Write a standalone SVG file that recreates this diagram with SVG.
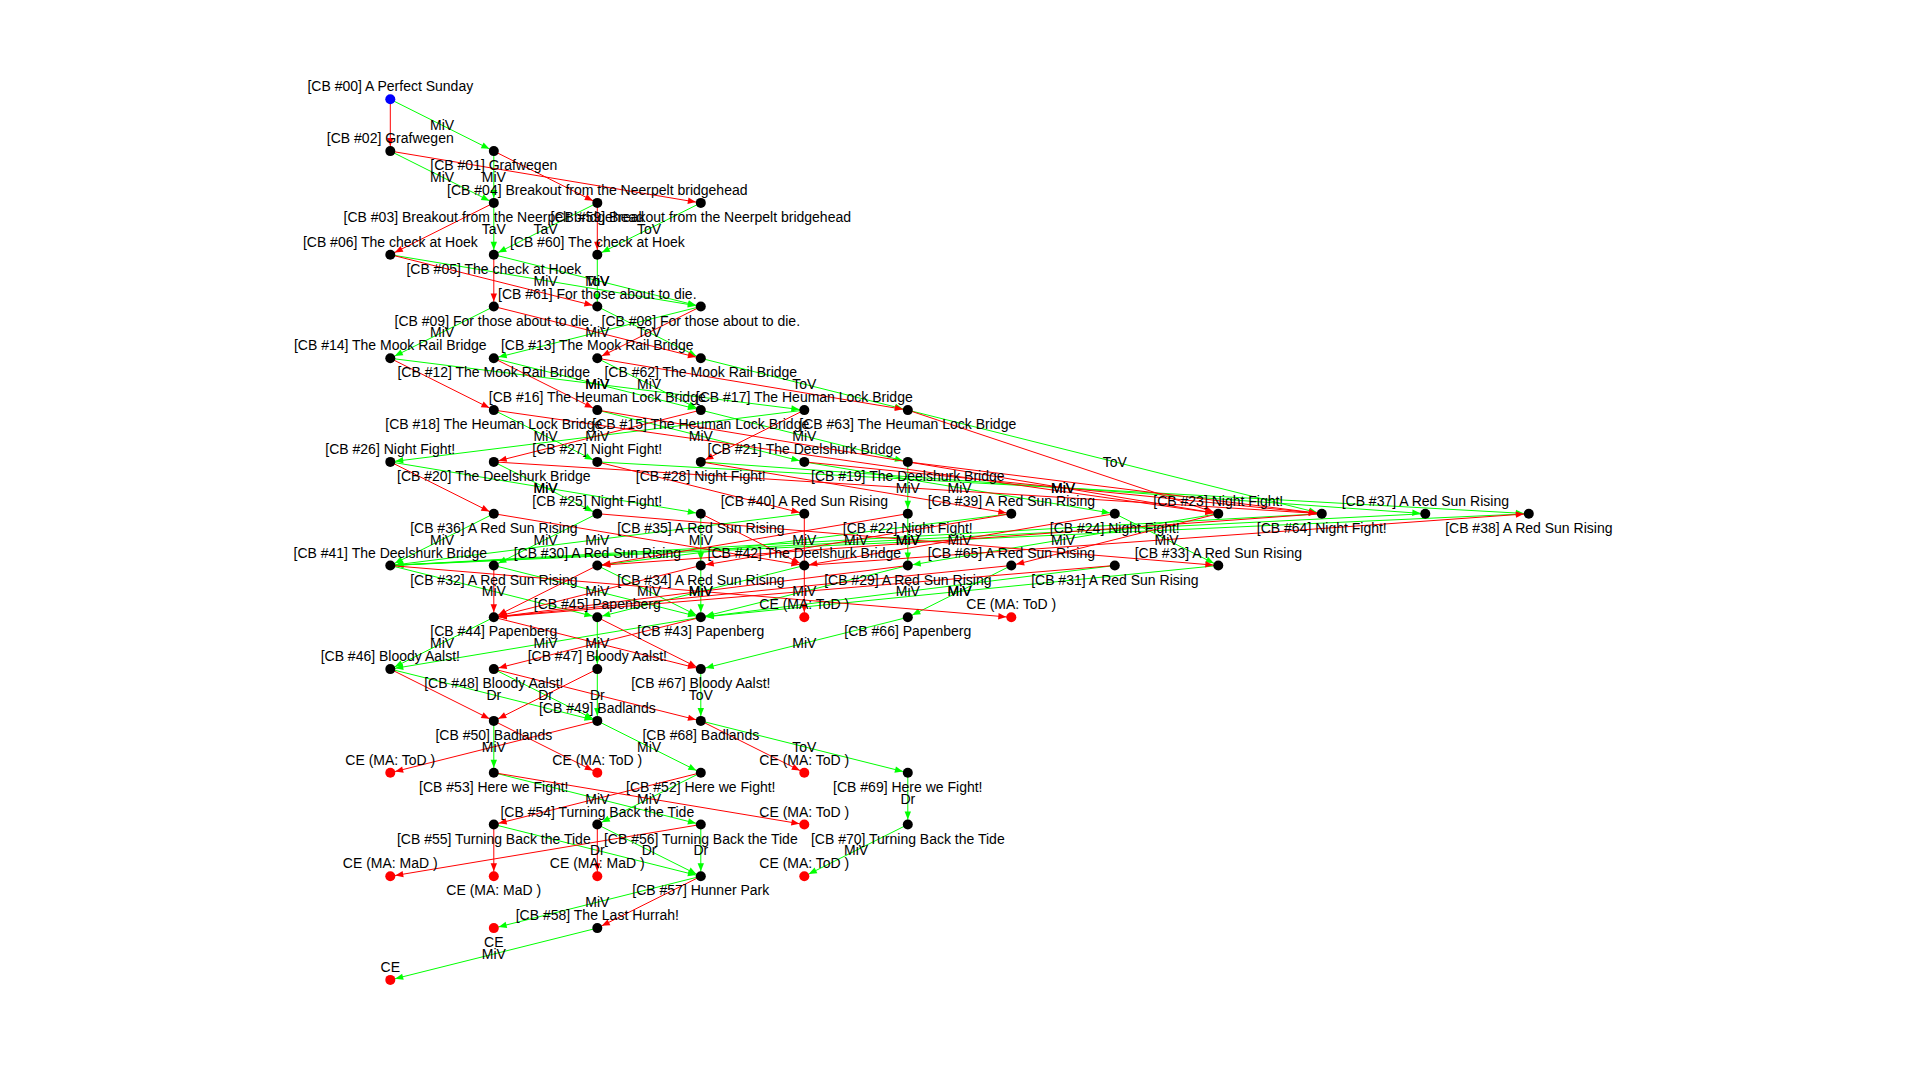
<svg xmlns="http://www.w3.org/2000/svg" width="1920" height="1080" viewBox="0 0 1920 1080">
<style>
.g{stroke:#00ff00;stroke-width:1;fill:none;marker-end:url(#ag)}
.r{stroke:#ff0000;stroke-width:1;fill:none;marker-end:url(#ar)}
text{font-family:"Liberation Sans",Arial,Helvetica,sans-serif;font-size:14px;fill:#000;text-anchor:middle}
.k{fill:#000}
.s{fill:#0000ff}
.e{fill:#ff0000}
</style>
<defs>
<marker id="ag" markerUnits="userSpaceOnUse" markerWidth="14" markerHeight="7" refX="13" refY="3.2" orient="auto" overflow="visible"><path d="M0,0 L8,3.2 L0,6.4 z" fill="#00ff00"/></marker>
<marker id="ar" markerUnits="userSpaceOnUse" markerWidth="14" markerHeight="7" refX="13" refY="3.2" orient="auto" overflow="visible"><path d="M0,0 L8,3.2 L0,6.4 z" fill="#ff0000"/></marker>
</defs>
<rect x="0" y="0" width="1920" height="1080" fill="#ffffff"/>
<g id="connectors">
<g id="green-edges">
<line class="g" x1="390.3" y1="99.3" x2="493.8" y2="151.1"/>
<line class="g" x1="390.3" y1="151.1" x2="493.8" y2="202.9"/>
<line class="g" x1="493.8" y1="151.1" x2="493.8" y2="202.9"/>
<line class="g" x1="493.8" y1="202.9" x2="493.8" y2="254.7"/>
<line class="g" x1="597.3" y1="202.9" x2="493.8" y2="254.7"/>
<line class="g" x1="700.8" y1="202.9" x2="597.3" y2="254.7"/>
<line class="g" x1="390.3" y1="254.7" x2="700.8" y2="306.5"/>
<line class="g" x1="493.8" y1="254.7" x2="700.8" y2="306.5"/>
<line class="g" x1="597.3" y1="254.7" x2="597.3" y2="306.5"/>
<line class="g" x1="493.8" y1="306.5" x2="390.3" y2="358.3"/>
<line class="g" x1="700.8" y1="306.5" x2="493.8" y2="358.3"/>
<line class="g" x1="597.3" y1="306.5" x2="700.8" y2="358.3"/>
<line class="g" x1="390.3" y1="358.3" x2="804.3" y2="410.1"/>
<line class="g" x1="493.8" y1="358.3" x2="700.8" y2="410.1"/>
<line class="g" x1="597.3" y1="358.3" x2="700.8" y2="410.1"/>
<line class="g" x1="700.8" y1="358.3" x2="907.8" y2="410.1"/>
<line class="g" x1="493.8" y1="410.1" x2="597.3" y2="461.9"/>
<line class="g" x1="597.3" y1="410.1" x2="804.3" y2="461.9"/>
<line class="g" x1="700.8" y1="410.1" x2="907.8" y2="461.9"/>
<line class="g" x1="804.3" y1="410.1" x2="390.3" y2="461.9"/>
<line class="g" x1="907.8" y1="410.1" x2="1321.8" y2="513.7"/>
<line class="g" x1="390.3" y1="461.9" x2="700.8" y2="513.7"/>
<line class="g" x1="493.8" y1="461.9" x2="597.3" y2="513.7"/>
<line class="g" x1="597.3" y1="461.9" x2="1528.8" y2="513.7"/>
<line class="g" x1="700.8" y1="461.9" x2="1425.3" y2="513.7"/>
<line class="g" x1="804.3" y1="461.9" x2="1114.8" y2="513.7"/>
<line class="g" x1="907.8" y1="461.9" x2="907.8" y2="513.7"/>
<line class="g" x1="493.8" y1="513.7" x2="390.3" y2="565.5"/>
<line class="g" x1="597.3" y1="513.7" x2="493.8" y2="565.5"/>
<line class="g" x1="700.8" y1="513.7" x2="700.8" y2="565.5"/>
<line class="g" x1="804.3" y1="513.7" x2="390.3" y2="565.5"/>
<line class="g" x1="907.8" y1="513.7" x2="907.8" y2="565.5"/>
<line class="g" x1="1011.3" y1="513.7" x2="597.3" y2="565.5"/>
<line class="g" x1="1114.8" y1="513.7" x2="1218.3" y2="565.5"/>
<line class="g" x1="1218.3" y1="513.7" x2="907.8" y2="565.5"/>
<line class="g" x1="1321.8" y1="513.7" x2="390.3" y2="565.5"/>
<line class="g" x1="1425.3" y1="513.7" x2="390.3" y2="565.5"/>
<line class="g" x1="1528.8" y1="513.7" x2="390.3" y2="565.5"/>
<line class="g" x1="390.3" y1="565.5" x2="597.3" y2="617.3"/>
<line class="g" x1="493.8" y1="565.5" x2="700.8" y2="617.3"/>
<line class="g" x1="597.3" y1="565.5" x2="700.8" y2="617.3"/>
<line class="g" x1="700.8" y1="565.5" x2="700.8" y2="617.3"/>
<line class="g" x1="804.3" y1="565.5" x2="597.3" y2="617.3"/>
<line class="g" x1="907.8" y1="565.5" x2="700.8" y2="617.3"/>
<line class="g" x1="1011.3" y1="565.5" x2="907.8" y2="617.3"/>
<line class="g" x1="1114.8" y1="565.5" x2="700.8" y2="617.3"/>
<line class="g" x1="1218.3" y1="565.5" x2="700.8" y2="617.3"/>
<line class="g" x1="493.8" y1="617.3" x2="390.3" y2="669.1"/>
<line class="g" x1="700.8" y1="617.3" x2="390.3" y2="669.1"/>
<line class="g" x1="597.3" y1="617.3" x2="597.3" y2="669.1"/>
<line class="g" x1="907.8" y1="617.3" x2="700.8" y2="669.1"/>
<line class="g" x1="390.3" y1="669.1" x2="597.3" y2="720.9"/>
<line class="g" x1="493.8" y1="669.1" x2="597.3" y2="720.9"/>
<line class="g" x1="597.3" y1="669.1" x2="597.3" y2="720.9"/>
<line class="g" x1="700.8" y1="669.1" x2="700.8" y2="720.9"/>
<line class="g" x1="493.8" y1="720.9" x2="493.8" y2="772.7"/>
<line class="g" x1="597.3" y1="720.9" x2="700.8" y2="772.7"/>
<line class="g" x1="700.8" y1="720.9" x2="907.8" y2="772.7"/>
<line class="g" x1="493.8" y1="772.7" x2="700.8" y2="824.5"/>
<line class="g" x1="700.8" y1="772.7" x2="597.3" y2="824.5"/>
<line class="g" x1="907.8" y1="772.7" x2="907.8" y2="824.5"/>
<line class="g" x1="493.8" y1="824.5" x2="700.8" y2="876.3"/>
<line class="g" x1="597.3" y1="824.5" x2="700.8" y2="876.3"/>
<line class="g" x1="700.8" y1="824.5" x2="700.8" y2="876.3"/>
<line class="g" x1="907.8" y1="824.5" x2="804.3" y2="876.3"/>
<line class="g" x1="700.8" y1="876.3" x2="493.8" y2="928.1"/>
<line class="g" x1="597.3" y1="928.1" x2="390.3" y2="979.9"/>
</g>
<g id="red-edges">
<line class="r" x1="390.3" y1="99.3" x2="390.3" y2="151.1"/>
<line class="r" x1="390.3" y1="151.1" x2="700.8" y2="202.9"/>
<line class="r" x1="493.8" y1="151.1" x2="597.3" y2="202.9"/>
<line class="r" x1="493.8" y1="202.9" x2="390.3" y2="254.7"/>
<line class="r" x1="597.3" y1="202.9" x2="597.3" y2="254.7"/>
<line class="r" x1="390.3" y1="254.7" x2="597.3" y2="306.5"/>
<line class="r" x1="493.8" y1="254.7" x2="493.8" y2="306.5"/>
<line class="r" x1="493.8" y1="306.5" x2="700.8" y2="358.3"/>
<line class="r" x1="700.8" y1="306.5" x2="597.3" y2="358.3"/>
<line class="r" x1="390.3" y1="358.3" x2="493.8" y2="410.1"/>
<line class="r" x1="493.8" y1="358.3" x2="597.3" y2="410.1"/>
<line class="r" x1="597.3" y1="358.3" x2="907.8" y2="410.1"/>
<line class="r" x1="700.8" y1="410.1" x2="493.8" y2="461.9"/>
<line class="r" x1="804.3" y1="410.1" x2="700.8" y2="461.9"/>
<line class="r" x1="493.8" y1="410.1" x2="1218.3" y2="513.7"/>
<line class="r" x1="597.3" y1="410.1" x2="1218.3" y2="513.7"/>
<line class="r" x1="907.8" y1="410.1" x2="1218.3" y2="513.7"/>
<line class="r" x1="390.3" y1="461.9" x2="493.8" y2="513.7"/>
<line class="r" x1="493.8" y1="461.9" x2="1321.8" y2="513.7"/>
<line class="r" x1="597.3" y1="461.9" x2="804.3" y2="513.7"/>
<line class="r" x1="700.8" y1="461.9" x2="1011.3" y2="513.7"/>
<line class="r" x1="804.3" y1="461.9" x2="1321.8" y2="513.7"/>
<line class="r" x1="907.8" y1="461.9" x2="1321.8" y2="513.7"/>
<line class="r" x1="493.8" y1="513.7" x2="804.3" y2="565.5"/>
<line class="r" x1="597.3" y1="513.7" x2="1218.3" y2="565.5"/>
<line class="r" x1="700.8" y1="513.7" x2="804.3" y2="565.5"/>
<line class="r" x1="804.3" y1="513.7" x2="804.3" y2="617.3"/>
<line class="r" x1="907.8" y1="513.7" x2="597.3" y2="565.5"/>
<line class="r" x1="1011.3" y1="513.7" x2="700.8" y2="565.5"/>
<line class="r" x1="1114.8" y1="513.7" x2="804.3" y2="565.5"/>
<line class="r" x1="1218.3" y1="513.7" x2="1011.3" y2="565.5"/>
<line class="r" x1="1321.8" y1="513.7" x2="597.3" y2="565.5"/>
<line class="r" x1="390.3" y1="565.5" x2="1011.3" y2="617.3"/>
<line class="r" x1="493.8" y1="565.5" x2="493.8" y2="617.3"/>
<line class="r" x1="597.3" y1="565.5" x2="493.8" y2="617.3"/>
<line class="r" x1="700.8" y1="565.5" x2="493.8" y2="617.3"/>
<line class="r" x1="804.3" y1="565.5" x2="1528.8" y2="513.7"/>
<line class="r" x1="907.8" y1="565.5" x2="493.8" y2="617.3"/>
<line class="r" x1="1011.3" y1="565.5" x2="493.8" y2="617.3"/>
<line class="r" x1="1114.8" y1="565.5" x2="493.8" y2="617.3"/>
<line class="r" x1="493.8" y1="617.3" x2="700.8" y2="669.1"/>
<line class="r" x1="597.3" y1="617.3" x2="700.8" y2="669.1"/>
<line class="r" x1="700.8" y1="617.3" x2="493.8" y2="669.1"/>
<line class="r" x1="390.3" y1="669.1" x2="493.8" y2="720.9"/>
<line class="r" x1="493.8" y1="669.1" x2="700.8" y2="720.9"/>
<line class="r" x1="597.3" y1="669.1" x2="493.8" y2="720.9"/>
<line class="r" x1="493.8" y1="720.9" x2="597.3" y2="772.7"/>
<line class="r" x1="597.3" y1="720.9" x2="390.3" y2="772.7"/>
<line class="r" x1="700.8" y1="720.9" x2="804.3" y2="772.7"/>
<line class="r" x1="493.8" y1="772.7" x2="804.3" y2="824.5"/>
<line class="r" x1="700.8" y1="772.7" x2="493.8" y2="824.5"/>
<line class="r" x1="493.8" y1="824.5" x2="493.8" y2="876.3"/>
<line class="r" x1="597.3" y1="824.5" x2="597.3" y2="876.3"/>
<line class="r" x1="700.8" y1="824.5" x2="390.3" y2="876.3"/>
<line class="r" x1="700.8" y1="876.3" x2="597.3" y2="928.1"/>
</g>
<g id="edge-labels">
<text x="442.1" y="130.2">MiV</text>
<text x="442.1" y="182">MiV</text>
<text x="493.8" y="182">MiV</text>
<text x="493.8" y="233.8">TaV</text>
<text x="545.6" y="233.8">TaV</text>
<text x="649.1" y="233.8">ToV</text>
<text x="545.6" y="285.6">MiV</text>
<text x="597.3" y="285.6">MiV</text>
<text x="597.3" y="285.6">ToV</text>
<text x="442.1" y="337.4">MiV</text>
<text x="597.3" y="337.4">MiV</text>
<text x="649.1" y="337.4">ToV</text>
<text x="597.3" y="389.2">MiV</text>
<text x="597.3" y="389.2">MiV</text>
<text x="649.1" y="389.2">MiV</text>
<text x="804.3" y="389.2">ToV</text>
<text x="545.6" y="441">MiV</text>
<text x="597.3" y="441">MiV</text>
<text x="700.8" y="441">MiV</text>
<text x="804.3" y="441">MiV</text>
<text x="1114.8" y="466.9">ToV</text>
<text x="545.6" y="492.8">MiV</text>
<text x="545.6" y="492.8">MiV</text>
<text x="907.8" y="492.8">MiV</text>
<text x="959.6" y="492.8">MiV</text>
<text x="1063.1" y="492.8">MiV</text>
<text x="1063.1" y="492.8">MiV</text>
<text x="442.1" y="544.6">MiV</text>
<text x="545.6" y="544.6">MiV</text>
<text x="597.3" y="544.6">MiV</text>
<text x="700.8" y="544.6">MiV</text>
<text x="804.3" y="544.6">MiV</text>
<text x="856.1" y="544.6">MiV</text>
<text x="907.8" y="544.6">MiV</text>
<text x="907.8" y="544.6">MiV</text>
<text x="959.6" y="544.6">MiV</text>
<text x="1063.1" y="544.6">MiV</text>
<text x="1166.6" y="544.6">MiV</text>
<text x="493.8" y="596.4">MiV</text>
<text x="597.3" y="596.4">MiV</text>
<text x="649.1" y="596.4">MiV</text>
<text x="700.8" y="596.4">MiV</text>
<text x="700.8" y="596.4">MiV</text>
<text x="804.3" y="596.4">MiV</text>
<text x="907.8" y="596.4">MiV</text>
<text x="959.6" y="596.4">MiV</text>
<text x="959.6" y="596.4">MiV</text>
<text x="442.1" y="648.2">MiV</text>
<text x="545.6" y="648.2">MiV</text>
<text x="597.3" y="648.2">MiV</text>
<text x="804.3" y="648.2">MiV</text>
<text x="493.8" y="700">Dr</text>
<text x="545.6" y="700">Dr</text>
<text x="597.3" y="700">Dr</text>
<text x="700.8" y="700">ToV</text>
<text x="493.8" y="751.8">MiV</text>
<text x="649.1" y="751.8">MiV</text>
<text x="804.3" y="751.8">ToV</text>
<text x="597.3" y="803.6">MiV</text>
<text x="649.1" y="803.6">MiV</text>
<text x="907.8" y="803.6">Dr</text>
<text x="597.3" y="855.4">Dr</text>
<text x="649.1" y="855.4">Dr</text>
<text x="700.8" y="855.4">Dr</text>
<text x="856.1" y="855.4">MiV</text>
<text x="597.3" y="907.2">MiV</text>
<text x="493.8" y="959">MiV</text>
</g>
</g>
<g id="nodes">
<g id="n00"><circle class="s" cx="390.3" cy="99.3" r="5"/><text x="390.3" y="91.3">[CB #00] A Perfect Sunday</text></g>
<g id="n02"><circle class="k" cx="390.3" cy="151.1" r="5"/><text x="390.3" y="143.1">[CB #02] Grafwegen</text></g>
<g id="n01"><circle class="k" cx="493.8" cy="151.1" r="5"/><text x="493.8" y="170.1">[CB #01] Grafwegen</text></g>
<g id="n03"><circle class="k" cx="493.8" cy="202.9" r="5"/><text x="493.8" y="221.9">[CB #03] Breakout from the Neerpelt bridgehead</text></g>
<g id="n04"><circle class="k" cx="597.3" cy="202.9" r="5"/><text x="597.3" y="194.9">[CB #04] Breakout from the Neerpelt bridgehead</text></g>
<g id="n59"><circle class="k" cx="700.8" cy="202.9" r="5"/><text x="700.8" y="221.9">[CB #59] Breakout from the Neerpelt bridgehead</text></g>
<g id="n06"><circle class="k" cx="390.3" cy="254.7" r="5"/><text x="390.3" y="246.7">[CB #06] The check at Hoek</text></g>
<g id="n05"><circle class="k" cx="493.8" cy="254.7" r="5"/><text x="493.8" y="273.7">[CB #05] The check at Hoek</text></g>
<g id="n60"><circle class="k" cx="597.3" cy="254.7" r="5"/><text x="597.3" y="246.7">[CB #60] The check at Hoek</text></g>
<g id="n09"><circle class="k" cx="493.8" cy="306.5" r="5"/><text x="493.8" y="325.5">[CB #09] For those about to die.</text></g>
<g id="n61"><circle class="k" cx="597.3" cy="306.5" r="5"/><text x="597.3" y="298.5">[CB #61] For those about to die.</text></g>
<g id="n08"><circle class="k" cx="700.8" cy="306.5" r="5"/><text x="700.8" y="325.5">[CB #08] For those about to die.</text></g>
<g id="n14"><circle class="k" cx="390.3" cy="358.3" r="5"/><text x="390.3" y="350.3">[CB #14] The Mook Rail Bridge</text></g>
<g id="n12"><circle class="k" cx="493.8" cy="358.3" r="5"/><text x="493.8" y="377.3">[CB #12] The Mook Rail Bridge</text></g>
<g id="n13"><circle class="k" cx="597.3" cy="358.3" r="5"/><text x="597.3" y="350.3">[CB #13] The Mook Rail Bridge</text></g>
<g id="n62"><circle class="k" cx="700.8" cy="358.3" r="5"/><text x="700.8" y="377.3">[CB #62] The Mook Rail Bridge</text></g>
<g id="n18"><circle class="k" cx="493.8" cy="410.1" r="5"/><text x="493.8" y="429.1">[CB #18] The Heuman Lock Bridge</text></g>
<g id="n16"><circle class="k" cx="597.3" cy="410.1" r="5"/><text x="597.3" y="402.1">[CB #16] The Heuman Lock Bridge</text></g>
<g id="n15"><circle class="k" cx="700.8" cy="410.1" r="5"/><text x="700.8" y="429.1">[CB #15] The Heuman Lock Bridge</text></g>
<g id="n17"><circle class="k" cx="804.3" cy="410.1" r="5"/><text x="804.3" y="402.1">[CB #17] The Heuman Lock Bridge</text></g>
<g id="n63"><circle class="k" cx="907.8" cy="410.1" r="5"/><text x="907.8" y="429.1">[CB #63] The Heuman Lock Bridge</text></g>
<g id="n26"><circle class="k" cx="390.3" cy="461.9" r="5"/><text x="390.3" y="453.9">[CB #26] Night Fight!</text></g>
<g id="n20"><circle class="k" cx="493.8" cy="461.9" r="5"/><text x="493.8" y="480.9">[CB #20] The Deelshurk Bridge</text></g>
<g id="n27"><circle class="k" cx="597.3" cy="461.9" r="5"/><text x="597.3" y="453.9">[CB #27] Night Fight!</text></g>
<g id="n28"><circle class="k" cx="700.8" cy="461.9" r="5"/><text x="700.8" y="480.9">[CB #28] Night Fight!</text></g>
<g id="n21"><circle class="k" cx="804.3" cy="461.9" r="5"/><text x="804.3" y="453.9">[CB #21] The Deelshurk Bridge</text></g>
<g id="n19"><circle class="k" cx="907.8" cy="461.9" r="5"/><text x="907.8" y="480.9">[CB #19] The Deelshurk Bridge</text></g>
<g id="n36"><circle class="k" cx="493.8" cy="513.7" r="5"/><text x="493.8" y="532.7">[CB #36] A Red Sun Rising</text></g>
<g id="n25"><circle class="k" cx="597.3" cy="513.7" r="5"/><text x="597.3" y="505.7">[CB #25] Night Fight!</text></g>
<g id="n35"><circle class="k" cx="700.8" cy="513.7" r="5"/><text x="700.8" y="532.7">[CB #35] A Red Sun Rising</text></g>
<g id="n40"><circle class="k" cx="804.3" cy="513.7" r="5"/><text x="804.3" y="505.7">[CB #40] A Red Sun Rising</text></g>
<g id="n22"><circle class="k" cx="907.8" cy="513.7" r="5"/><text x="907.8" y="532.7">[CB #22] Night Fight!</text></g>
<g id="n39"><circle class="k" cx="1011.3" cy="513.7" r="5"/><text x="1011.3" y="505.7">[CB #39] A Red Sun Rising</text></g>
<g id="n24"><circle class="k" cx="1114.8" cy="513.7" r="5"/><text x="1114.8" y="532.7">[CB #24] Night Fight!</text></g>
<g id="n23"><circle class="k" cx="1218.3" cy="513.7" r="5"/><text x="1218.3" y="505.7">[CB #23] Night Fight!</text></g>
<g id="n64"><circle class="k" cx="1321.8" cy="513.7" r="5"/><text x="1321.8" y="532.7">[CB #64] Night Fight!</text></g>
<g id="n37"><circle class="k" cx="1425.3" cy="513.7" r="5"/><text x="1425.3" y="505.7">[CB #37] A Red Sun Rising</text></g>
<g id="n38"><circle class="k" cx="1528.8" cy="513.7" r="5"/><text x="1528.8" y="532.7">[CB #38] A Red Sun Rising</text></g>
<g id="n41"><circle class="k" cx="390.3" cy="565.5" r="5"/><text x="390.3" y="557.5">[CB #41] The Deelshurk Bridge</text></g>
<g id="n32"><circle class="k" cx="493.8" cy="565.5" r="5"/><text x="493.8" y="584.5">[CB #32] A Red Sun Rising</text></g>
<g id="n30"><circle class="k" cx="597.3" cy="565.5" r="5"/><text x="597.3" y="557.5">[CB #30] A Red Sun Rising</text></g>
<g id="n34"><circle class="k" cx="700.8" cy="565.5" r="5"/><text x="700.8" y="584.5">[CB #34] A Red Sun Rising</text></g>
<g id="n42"><circle class="k" cx="804.3" cy="565.5" r="5"/><text x="804.3" y="557.5">[CB #42] The Deelshurk Bridge</text></g>
<g id="n29"><circle class="k" cx="907.8" cy="565.5" r="5"/><text x="907.8" y="584.5">[CB #29] A Red Sun Rising</text></g>
<g id="n65"><circle class="k" cx="1011.3" cy="565.5" r="5"/><text x="1011.3" y="557.5">[CB #65] A Red Sun Rising</text></g>
<g id="n31"><circle class="k" cx="1114.8" cy="565.5" r="5"/><text x="1114.8" y="584.5">[CB #31] A Red Sun Rising</text></g>
<g id="n33"><circle class="k" cx="1218.3" cy="565.5" r="5"/><text x="1218.3" y="557.5">[CB #33] A Red Sun Rising</text></g>
<g id="n44"><circle class="k" cx="493.8" cy="617.3" r="5"/><text x="493.8" y="636.3">[CB #44] Papenberg</text></g>
<g id="n45"><circle class="k" cx="597.3" cy="617.3" r="5"/><text x="597.3" y="609.3">[CB #45] Papenberg</text></g>
<g id="n43"><circle class="k" cx="700.8" cy="617.3" r="5"/><text x="700.8" y="636.3">[CB #43] Papenberg</text></g>
<g id="ce1"><circle class="e" cx="804.3" cy="617.3" r="5"/><text x="804.3" y="609.3">CE (MA: ToD )</text></g>
<g id="n66"><circle class="k" cx="907.8" cy="617.3" r="5"/><text x="907.8" y="636.3">[CB #66] Papenberg</text></g>
<g id="ce2"><circle class="e" cx="1011.3" cy="617.3" r="5"/><text x="1011.3" y="609.3">CE (MA: ToD )</text></g>
<g id="n46"><circle class="k" cx="390.3" cy="669.1" r="5"/><text x="390.3" y="661.1">[CB #46] Bloody Aalst!</text></g>
<g id="n48"><circle class="k" cx="493.8" cy="669.1" r="5"/><text x="493.8" y="688.1">[CB #48] Bloody Aalst!</text></g>
<g id="n47"><circle class="k" cx="597.3" cy="669.1" r="5"/><text x="597.3" y="661.1">[CB #47] Bloody Aalst!</text></g>
<g id="n67"><circle class="k" cx="700.8" cy="669.1" r="5"/><text x="700.8" y="688.1">[CB #67] Bloody Aalst!</text></g>
<g id="n50"><circle class="k" cx="493.8" cy="720.9" r="5"/><text x="493.8" y="739.9">[CB #50] Badlands</text></g>
<g id="n49"><circle class="k" cx="597.3" cy="720.9" r="5"/><text x="597.3" y="712.9">[CB #49] Badlands</text></g>
<g id="n68"><circle class="k" cx="700.8" cy="720.9" r="5"/><text x="700.8" y="739.9">[CB #68] Badlands</text></g>
<g id="ce3"><circle class="e" cx="390.3" cy="772.7" r="5"/><text x="390.3" y="764.7">CE (MA: ToD )</text></g>
<g id="n53"><circle class="k" cx="493.8" cy="772.7" r="5"/><text x="493.8" y="791.7">[CB #53] Here we Fight!</text></g>
<g id="ce4"><circle class="e" cx="597.3" cy="772.7" r="5"/><text x="597.3" y="764.7">CE (MA: ToD )</text></g>
<g id="n52"><circle class="k" cx="700.8" cy="772.7" r="5"/><text x="700.8" y="791.7">[CB #52] Here we Fight!</text></g>
<g id="ce5"><circle class="e" cx="804.3" cy="772.7" r="5"/><text x="804.3" y="764.7">CE (MA: ToD )</text></g>
<g id="n69"><circle class="k" cx="907.8" cy="772.7" r="5"/><text x="907.8" y="791.7">[CB #69] Here we Fight!</text></g>
<g id="n55"><circle class="k" cx="493.8" cy="824.5" r="5"/><text x="493.8" y="843.5">[CB #55] Turning Back the Tide</text></g>
<g id="n54"><circle class="k" cx="597.3" cy="824.5" r="5"/><text x="597.3" y="816.5">[CB #54] Turning Back the Tide</text></g>
<g id="n56"><circle class="k" cx="700.8" cy="824.5" r="5"/><text x="700.8" y="843.5">[CB #56] Turning Back the Tide</text></g>
<g id="ce6"><circle class="e" cx="804.3" cy="824.5" r="5"/><text x="804.3" y="816.5">CE (MA: ToD )</text></g>
<g id="n70"><circle class="k" cx="907.8" cy="824.5" r="5"/><text x="907.8" y="843.5">[CB #70] Turning Back the Tide</text></g>
<g id="ce7"><circle class="e" cx="390.3" cy="876.3" r="5"/><text x="390.3" y="868.3">CE (MA: MaD )</text></g>
<g id="ce8"><circle class="e" cx="493.8" cy="876.3" r="5"/><text x="493.8" y="895.3">CE (MA: MaD )</text></g>
<g id="ce9"><circle class="e" cx="597.3" cy="876.3" r="5"/><text x="597.3" y="868.3">CE (MA: MaD )</text></g>
<g id="n57"><circle class="k" cx="700.8" cy="876.3" r="5"/><text x="700.8" y="895.3">[CB #57] Hunner Park</text></g>
<g id="ce10"><circle class="e" cx="804.3" cy="876.3" r="5"/><text x="804.3" y="868.3">CE (MA: ToD )</text></g>
<g id="ce11"><circle class="e" cx="493.8" cy="928.1" r="5"/><text x="493.8" y="947.1">CE</text></g>
<g id="n58"><circle class="k" cx="597.3" cy="928.1" r="5"/><text x="597.3" y="920.1">[CB #58] The Last Hurrah!</text></g>
<g id="ce12"><circle class="e" cx="390.3" cy="979.9" r="5"/><text x="390.3" y="971.9">CE</text></g>
</g>
</svg>
